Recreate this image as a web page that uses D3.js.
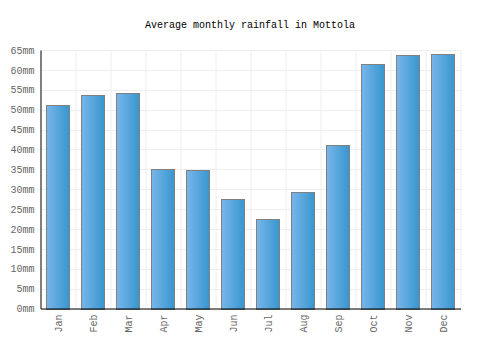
<!DOCTYPE html>
<html><head><meta charset="utf-8">
<script src="https://cdn.jsdelivr.net/npm/d3@7"></script>
<style>body{margin:0;background:#fff}svg{display:block}</style>
</head><body>
<svg id="c" width="500" height="350"></svg>
<script>
const months = ["Jan","Feb","Mar","Apr","May","Jun","Jul","Aug","Sep","Oct","Nov","Dec"];
const rainfall = [51.1, 53.7, 54.2, 35.0, 34.8, 27.6, 22.4, 29.2, 41.1, 61.5, 63.8, 64.1];
const yTicks = [0,5,10,15,20,25,30,35,40,45,50,55,60,65];
const title = "Average monthly rainfall in Mottola";

const svg = d3.select("#c");
const m = {left: 40.5, right: 460.5, top: 50, bottom: 308.5};
const font = "'Liberation Mono', 'DejaVu Sans Mono', monospace";

const defs = svg.append("defs");
const g = defs.append("linearGradient").attr("id","bg").attr("x1","0").attr("x2","1").attr("y1","0").attr("y2","0");
g.append("stop").attr("offset","0%").attr("stop-color","#78b6ea");
g.append("stop").attr("offset","100%").attr("stop-color","#3896cf");

const x = d3.scaleBand().domain(months).range([m.left, m.right]).paddingInner(0.333).paddingOuter(0.1665);
const y = d3.scaleLinear().domain([0,65]).range([m.bottom, m.top]);

// grid
const grid = svg.append("g").attr("stroke","#eeeeee").attr("stroke-width",1);
yTicks.forEach(t => grid.append("line").attr("x1",m.left).attr("x2",m.right).attr("y1",Math.round(y(t))+0.5).attr("y2",Math.round(y(t))+0.5));
const step = x.step();
for (let i = 1; i <= months.length; i++) {
  const xx = Math.round(m.left + i*step);
  grid.append("line").attr("x1",xx).attr("x2",xx).attr("y1",m.top).attr("y2",m.bottom);
}

// bars
svg.append("g").selectAll("rect").data(rainfall).join("rect")
  .attr("x",(d,i)=>Math.round(x(months[i]))+0.5)
  .attr("width",Math.round(x.bandwidth()))
  .attr("y",d=>Math.round(y(d))+0.5)
  .attr("height",d=>Math.round(y(0))-Math.round(y(d)))
  .attr("fill","url(#bg)").attr("stroke","#808080").attr("stroke-width",1);

// y axis
const ya = svg.append("g").attr("transform",`translate(${m.left},0)`)
  .call(d3.axisLeft(y).tickValues(yTicks).tickSize(0).tickPadding(6).tickFormat(d=>d+"mm"));
ya.select(".domain").attr("stroke","#000");
ya.selectAll("text").attr("font-family",font).attr("font-size","10px").attr("fill","#666");

// x axis
const xa = svg.append("g").attr("transform",`translate(0,${m.bottom})`)
  .call(d3.axisBottom(x).tickSize(0).tickPadding(0));
xa.select(".domain").attr("stroke","#000");
xa.selectAll("text").attr("font-family",font).attr("font-size","10px").attr("fill","#666")
  .attr("transform","rotate(-90)").attr("text-anchor","end").attr("dy","0.35em").attr("x",-6).attr("y",0);

svg.append("text").attr("x",250).attr("y",28).attr("text-anchor","middle")
  .attr("font-family",font).attr("font-size","10px").attr("fill","#000").text(title);
</script>
</body></html>
